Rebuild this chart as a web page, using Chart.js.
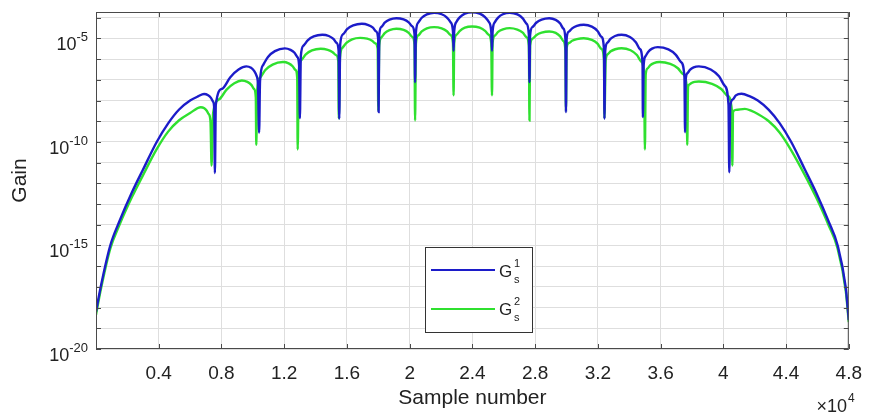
<!DOCTYPE html>
<html>
<head>
<meta charset="utf-8">
<script src="https://cdn.jsdelivr.net/npm/chart.js@4.4.0/dist/chart.umd.min.js"></script>
<style>
  html, body { margin: 0; padding: 0; background: #fff; }
  #wrap { width: 875px; height: 414px; }
</style>
</head>
<body>
<div id="wrap"><canvas id="gainChart" width="875" height="414"></canvas></div>
<script>
// G_s^1 (blue)
const samplesG1 = [
  0, 300, 910, 1500, 2300, 3000, 3870, 4600, 5300, 6000, 6500, 6890, 7150, 7330, 7455, 7540, 7580,
  7640, 8040, 8565, 9090, 9590, 9886, 10093, 10234, 10330, 10400,
  10460, 10665, 10966, 11408, 12040, 12404, 12659, 12832, 12950, 13000,
  13060, 13238, 13498, 13882, 14430, 14846, 15137, 15335, 15470, 15510,
  15570, 15749, 16012, 16398, 16950, 17366, 17657, 17855, 17990, 18020,
  18060, 18202, 18409, 18714, 19150, 19614, 19939, 20159, 20310, 20345,
  20400, 20551, 20771, 21096, 21560, 22040, 22376, 22604, 22760, 22800,
  22840, 22988, 23203, 23521, 23975, 24465, 24808, 25041, 25200, 25250,
  25290, 25432, 25639, 25944, 26380, 26868, 27210, 27441, 27600, 27640,
  27680, 27839, 28070, 28412, 28900, 29312, 29600, 29796, 29930, 29965,
  30010, 30152, 30359, 30664, 31100, 31616, 31977, 32222, 32390, 32420,
  32470, 32605, 32803, 33094, 33510, 34046, 34421, 34676, 34850, 34870,
  34920, 35036, 35206, 35457, 35815, 36497, 36974, 37298, 37520, 37560,
  37600, 37709, 37869, 38104, 38440, 39196, 39725, 40084, 40330, 40380,
  40440, 40600, 40800, 41160, 41700, 42200, 42900, 43600, 44330, 45200,
  45900, 46700, 47290, 47800, 48000
];
const expG1 = [
  -18.2, -17.0, -15.0, -13.82, -12.42, -11.33, -10.0, -9.1, -8.43, -8.0, -7.8, -7.68, -7.74, -7.87, -8.04, -8.4, -11.5,
  -8.2, -7.43, -6.87, -6.5, -6.35, -6.42, -6.58, -6.8, -7.25, -9.55,
  -7.05, -6.27, -5.89, -5.61, -5.48, -5.55, -5.69, -5.89, -6.3, -8.85,
  -5.85, -5.34, -5.09, -4.9, -4.82, -4.88, -5.02, -5.21, -5.6, -8.88,
  -5.3, -4.8, -4.55, -4.37, -4.29, -4.35, -4.48, -4.66, -5.02, -8.56,
  -4.85, -4.44, -4.24, -4.09, -4.02, -4.08, -4.22, -4.41, -4.8, -7.11,
  -4.7, -4.23, -4.0, -3.84, -3.76, -3.83, -3.99, -4.21, -4.65, -5.6,
  -4.65, -4.19, -3.97, -3.8, -3.73, -3.8, -3.97, -4.19, -4.65, -5.6,
  -4.65, -4.21, -3.99, -3.83, -3.76, -3.84, -4.03, -4.28, -4.8, -7.11,
  -4.85, -4.44, -4.24, -4.09, -4.02, -4.1, -4.28, -4.52, -5.02, -8.56,
  -5.0, -4.67, -4.51, -4.39, -4.34, -4.43, -4.64, -4.92, -5.5, -8.88,
  -5.6, -5.21, -5.02, -4.88, -4.82, -4.93, -5.18, -5.51, -6.2, -8.8,
  -6.3, -5.86, -5.65, -5.49, -5.42, -5.53, -5.79, -6.14, -6.85, -9.53,
  -7.0, -6.68, -6.52, -6.4, -6.35, -6.5, -6.83, -7.28, -8.2, -11.46,
  -8.3, -7.95, -7.75, -7.67, -7.8, -8.0, -8.45, -9.1, -10.0, -11.33,
  -12.42, -13.82, -15.0, -17.0, -18.6
];

// G_s^2 (green)
const samplesG2 = [
  0, 300, 910, 1500, 2300, 3000, 3870, 4600, 5300, 6000, 6680, 6906, 7064, 7172, 7300, 7370,
  7470, 7853, 8328, 8820, 9295, 9653, 9904, 10074, 10190, 10220,
  10270, 10485, 10798, 11260, 11920, 12284, 12539, 12712, 12830, 12860,
  12930, 13112, 13378, 13770, 14330, 14778, 15092, 15304, 15450, 15480,
  15560, 15726, 15970, 16328, 16840, 17288, 17602, 17814, 17960, 18000,
  18060, 18202, 18409, 18714, 19150, 19614, 19939, 20159, 20310, 20345,
  20400, 20551, 20771, 21096, 21560, 22040, 22376, 22604, 22760, 22800,
  22840, 22988, 23203, 23521, 23975, 24465, 24808, 25041, 25200, 25250,
  25290, 25432, 25639, 25944, 26380, 26868, 27210, 27441, 27600, 27640,
  27680, 27839, 28070, 28412, 28900, 29312, 29600, 29796, 29930, 29965,
  30010, 30152, 30359, 30664, 31100, 31616, 31977, 32222, 32390, 32420,
  32500, 32631, 32823, 33106, 33510, 34086, 34489, 34763, 34950, 35000,
  35050, 35163, 35328, 35572, 35920, 36616, 37103, 37434, 37660, 37700,
  37750, 37840, 37971, 38164, 38440, 39280, 39868, 40267, 40540, 40575,
  40620, 40800, 41370, 41800, 42200, 42900, 43600, 44330, 45200, 45900,
  46700, 47290, 47800, 48000
];
const expG2 = [
  -18.35, -17.15, -15.15, -14.0, -12.65, -11.6, -10.35, -9.5, -8.95, -8.6, -8.32, -8.37, -8.49, -8.64, -9.0, -11.14,
  -8.6, -7.94, -7.47, -7.16, -7.03, -7.1, -7.24, -7.44, -7.85, -10.14,
  -7.6, -6.87, -6.52, -6.26, -6.14, -6.2, -6.34, -6.52, -6.9, -10.36,
  -6.55, -6.03, -5.77, -5.58, -5.5, -5.55, -5.66, -5.8, -6.1, -8.86,
  -5.9, -5.44, -5.21, -5.04, -4.97, -5.01, -5.11, -5.24, -5.5, -8.5,
  -5.35, -4.94, -4.74, -4.6, -4.53, -4.59, -4.73, -4.92, -5.3, -8.96,
  -5.25, -4.85, -4.66, -4.51, -4.45, -4.51, -4.65, -4.83, -5.21, -7.75,
  -5.21, -4.82, -4.63, -4.48, -4.42, -4.48, -4.63, -4.82, -5.21, -7.75,
  -5.21, -4.86, -4.68, -4.56, -4.5, -4.57, -4.72, -4.93, -5.35, -8.96,
  -5.35, -5.01, -4.84, -4.72, -4.66, -4.73, -4.9, -5.12, -5.58, -8.5,
  -5.45, -5.22, -5.11, -5.03, -4.99, -5.07, -5.25, -5.5, -6.0, -8.85,
  -6.05, -5.76, -5.62, -5.52, -5.47, -5.57, -5.8, -6.11, -6.75, -10.36,
  -6.75, -6.45, -6.3, -6.19, -6.14, -6.23, -6.44, -6.72, -7.3, -10.14,
  -7.35, -7.22, -7.15, -7.1, -7.08, -7.19, -7.44, -7.77, -8.45, -11.14,
  -8.55, -8.45, -8.4, -8.5, -8.65, -9.0, -9.55, -10.4, -11.6, -12.65,
  -14.0, -15.15, -17.15, -18.7
];

// axis ticks
const xTicks = [0, 4000, 8000, 12000, 16000, 20000, 24000, 28000, 32000, 36000, 40000, 44000, 48000];
const xTickLabels = ['', '0.4', '0.8', '1.2', '1.6', '2', '2.4', '2.8', '3.2', '3.6', '4', '4.4', '4.8'];
const yTicks = [1e-20, 1e-19, 1e-18, 1e-17, 1e-16, 1e-15, 1e-14, 1e-13, 1e-12, 1e-11,
                1e-10, 1e-9, 1e-8, 1e-7, 1e-6, 1e-5, 1e-4];
const yLabelValues = [1e-20, 1e-15, 1e-10, 1e-5];
const yLabelExps = ['-20', '-15', '-10', '-5'];

const FONT = 'Liberation Sans, Arial, sans-serif';
const TEXT = '#222';
const BLUE = '#1c1cc9';
const GREEN = '#2fe02f';

const toPoints = (xs, es) => xs.map((x, i) => ({ x: x, y: Math.pow(10, es[i]) }));

// box, inward tick marks, 10^n labels, legend and the x10^4 multiplier
const framePlugin = {
  id: 'frame',
  afterDraw(chart) {
    const { ctx, chartArea: a } = chart;
    const x = chart.scales.x, y = chart.scales.y;
    ctx.save();
    ctx.strokeStyle = '#4a4a4a';
    ctx.lineWidth = 1;
    ctx.strokeRect(a.left + 0.5, a.top + 0.5, a.right - a.left - 1, a.bottom - a.top - 1);

    ctx.beginPath();
    xTicks.forEach(v => {
      const px = Math.round(x.getPixelForValue(v)) + 0.5;
      ctx.moveTo(px, a.bottom); ctx.lineTo(px, a.bottom - 5);
      ctx.moveTo(px, a.top); ctx.lineTo(px, a.top + 5);
    });
    yTicks.forEach(v => {
      const py = Math.round(y.getPixelForValue(v)) + 0.5;
      ctx.moveTo(a.left, py); ctx.lineTo(a.left + 5, py);
      ctx.moveTo(a.right, py); ctx.lineTo(a.right - 5, py);
    });
    ctx.stroke();

    // y tick labels: 10 with a raised exponent
    ctx.fillStyle = TEXT;
    ctx.textBaseline = 'alphabetic';
    yLabelValues.forEach((v, i) => {
      const py = y.getPixelForValue(v);
      const right = a.left - 8;
      ctx.font = '13px ' + FONT;
      const ew = ctx.measureText(yLabelExps[i]).width;
      ctx.textAlign = 'right';
      ctx.fillText(yLabelExps[i], right, py + 3);
      ctx.font = '18px ' + FONT;
      ctx.fillText('10', right - ew, py + 12);
    });

    // x10^4
    ctx.textAlign = 'right';
    ctx.font = '18px ' + FONT;
    ctx.fillText('×10', 847, 412);
    ctx.textAlign = 'left';
    ctx.font = '12px ' + FONT;
    ctx.fillText('4', 848, 402);

    // legend
    const lg = { x: 425, y: 247, w: 107, h: 85 };
    ctx.fillStyle = '#fff';
    ctx.fillRect(lg.x, lg.y, lg.w, lg.h);
    ctx.strokeStyle = '#333';
    ctx.lineWidth = 1;
    ctx.strokeRect(lg.x + 0.5, lg.y + 0.5, lg.w, lg.h);
    const entries = [
      { color: BLUE, sup: '1', lineY: 270, base: 277 },
      { color: GREEN, sup: '2', lineY: 309, base: 315 }
    ];
    entries.forEach(e => {
      ctx.strokeStyle = e.color;
      ctx.lineWidth = 2;
      ctx.beginPath();
      ctx.moveTo(lg.x + 6, e.lineY);
      ctx.lineTo(lg.x + 70, e.lineY);
      ctx.stroke();
      ctx.fillStyle = TEXT;
      ctx.textAlign = 'left';
      ctx.font = '17px ' + FONT;
      ctx.fillText('G', lg.x + 74, e.base);
      ctx.font = '11px ' + FONT;
      ctx.fillText(e.sup, lg.x + 89, e.base - 10);
      ctx.fillText('s', lg.x + 89, e.base + 6);
    });
    ctx.restore();
  }
};

const ctx = document.getElementById('gainChart').getContext('2d');
new Chart(ctx, {
  type: 'line',
  data: {
    datasets: [
      {
        label: 'G1',
        data: toPoints(samplesG1, expG1),
        borderColor: BLUE,
        borderWidth: 2.4,
        pointRadius: 0,
        cubicInterpolationMode: 'monotone',
        fill: false
      },
      {
        label: 'G2',
        data: toPoints(samplesG2, expG2),
        borderColor: GREEN,
        borderWidth: 2.4,
        pointRadius: 0,
        cubicInterpolationMode: 'monotone',
        fill: false
      }
    ]
  },
  options: {
    responsive: false,
    animation: false,
    devicePixelRatio: 1,
    layout: { padding: { top: 12, right: 16, left: 0, bottom: 0 } },
    plugins: {
      legend: { display: false },
      tooltip: { enabled: false }
    },
    scales: {
      x: {
        type: 'linear',
        min: 0,
        max: 48000,
        afterBuildTicks: s => { s.ticks = xTicks.map(v => ({ value: v })); },
        afterFit: s => { s.height = 65; },
        grid: { color: '#dedede', drawTicks: false },
        border: { display: false },
        ticks: {
          autoSkip: false,
          maxRotation: 0,
          padding: 13,
          color: TEXT,
          font: { family: FONT, size: 19 },
          callback: (v, i) => xTickLabels[i]
        },
        title: {
          display: true,
          text: 'Sample number',
          color: TEXT,
          font: { family: FONT, size: 21 },
          padding: { top: 0, bottom: 3 }
        }
      },
      y: {
        type: 'logarithmic',
        min: 1e-20,
        max: 1.9e-4,
        afterBuildTicks: s => { s.ticks = yTicks.map(v => ({ value: v })); },
        afterFit: s => { s.width = 96; s.paddingTop = 0; s.paddingBottom = 0; },
        grid: { color: '#dedede', drawTicks: false },
        border: { display: false },
        ticks: { display: false },
        title: {
          display: true,
          text: 'Gain',
          color: TEXT,
          font: { family: FONT, size: 21 },
          padding: { top: 8, bottom: 0 }
        }
      }
    }
  },
  plugins: [framePlugin]
});
</script>
</body>
</html>
